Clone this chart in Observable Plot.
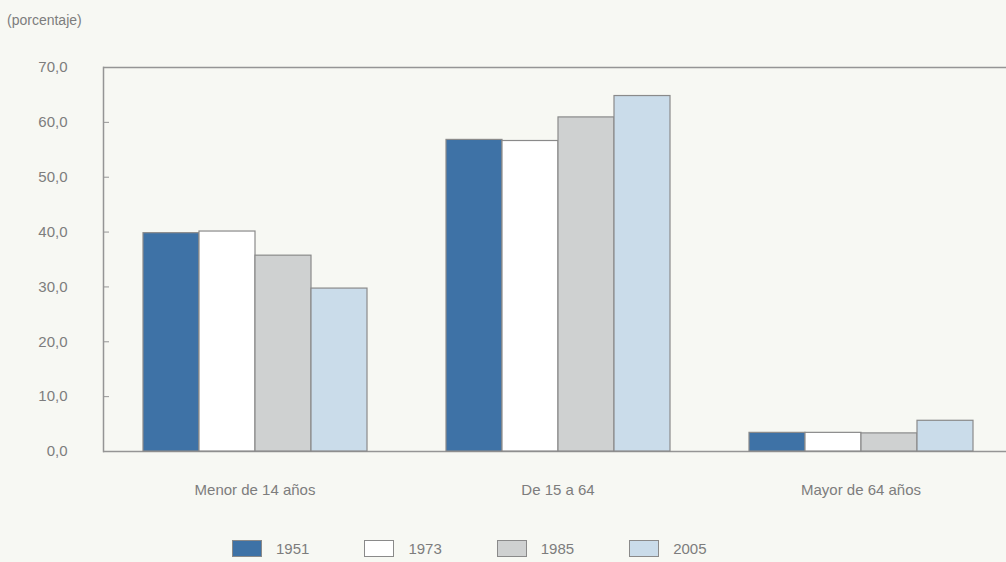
<!DOCTYPE html>
<html>
<head>
<meta charset="utf-8">
<script src="https://cdn.jsdelivr.net/npm/d3@7"></script>
<script src="https://cdn.jsdelivr.net/npm/@observablehq/plot@0.6"></script>
<style>
  html, body { margin: 0; padding: 0; background: #f7f8f3; overflow: hidden; width: 1006px; height: 562px; }
  body { font-family: "Liberation Sans", Arial, sans-serif; color: #7d7d7d; }
  #sub { height: 40px; line-height: 40px; font-size: 14px; padding-left: 7px; color: #7d7d7d; }
  #chart { width: 1006px; overflow: hidden; }
  #chart svg { display: block; background: transparent; max-width: none !important; }
  #legend { display: flex; gap: 55px; padding-left: 232px; margin-top: 30px; align-items: center; }
  .item { display: flex; align-items: center; gap: 14px; font-size: 15px; color: #7d7d7d; }
  .sw { width: 28px; height: 15px; border: 1px solid #8a8a8a; }
</style>
</head>
<body>
<div id="sub">(porcentaje)</div>
<div id="chart"></div>
<div id="legend"></div>
<script>
const groups = ["Menor de 14 años", "De 15 a 64", "Mayor de 64 años"];
const years = ["1951", "1973", "1985", "2005"];
const v1951 = [39.8, 56.8, 3.4];
const v1973 = [40.1, 56.6, 3.4];
const v1985 = [35.7, 60.9, 3.3];
const v2005 = [29.7, 64.8, 5.6];
const colors = ["#3e72a6", "#ffffff", "#cfd1d1", "#cadcea"];
const yTicks = [0, 10, 20, 30, 40, 50, 60, 70];

const series = [v1951, v1973, v1985, v2005];
const data = [];
groups.forEach((g, gi) => years.forEach((y, yi) => data.push({group: g, year: y, value: series[yi][gi]})));

const fmt = d => d.toFixed(1).replace(".", ",");

const chart = Plot.plot({
  width: 1012,
  height: 470,
  marginTop: 27,
  marginBottom: 59,
  marginLeft: 102,
  marginRight: 0,
  style: {background: "transparent", fontFamily: "Liberation Sans, Arial, sans-serif", fontSize: "15px", color: "#7d7d7d"},
  fx: {domain: groups, padding: 0, label: null, tickSize: 0, tickPadding: 33},
  x: {domain: years, paddingInner: 0, paddingOuter: 0.68, axis: null},
  y: {domain: [0, 70], label: null},
  color: {domain: years, range: colors},
  marks: [
    Plot.ruleY([0, 70], {stroke: "#959595", strokeWidth: 1.5}),
    Plot.frame({anchor: "left", facetAnchor: "left", stroke: "#959595", strokeWidth: 1.5}),
    Plot.axisY({ticks: yTicks, tickSize: 0, tickPadding: 36, tickFormat: fmt, fontSize: 15, color: "#7d7d7d"}),
    Plot.axisY({ticks: yTicks, tickSize: -6, tickFormat: () => "", stroke: "#959595"}),
    Plot.barY(data, {fx: "group", x: "year", y: "value", fill: "year", stroke: "#8a8a8a", strokeWidth: 1.2})
  ]
});
document.getElementById("chart").appendChild(chart);

const legend = document.getElementById("legend");
years.forEach((y, i) => {
  const it = document.createElement("div");
  it.className = "item";
  const sw = document.createElement("div");
  sw.className = "sw";
  sw.style.background = colors[i];
  const t = document.createElement("span");
  t.textContent = y;
  it.appendChild(sw); it.appendChild(t);
  legend.appendChild(it);
});
</script>
</body>
</html>
